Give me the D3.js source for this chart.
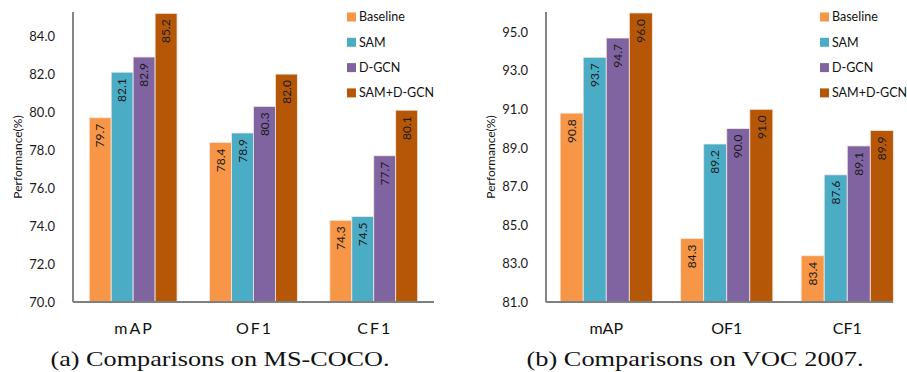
<!DOCTYPE html>
<html>
<head>
<meta charset="utf-8">
<script src="https://cdn.jsdelivr.net/npm/d3@7"></script>
<style>
  body { margin: 0; background: #fff; }
  svg { display: block; }
</style>
</head>
<body>
<div id="chart"></div>
<script>
const categories = ["mAP", "OF1", "CF1"];
const seriesNames = ["Baseline", "SAM", "D-GCN", "SAM+D-GCN"];
const seriesColors = ["#F79646", "#4BACC6", "#8064A2", "#B65708"];

// MS-COCO
const cocoBaseline = [79.7, 78.4, 74.3];
const cocoSAM = [82.1, 78.9, 74.5];
const cocoDGCN = [82.9, 80.3, 77.7];
const cocoBoth = [85.2, 82.0, 80.1];
const cocoTicks = [70, 72, 74, 76, 78, 80, 82, 84];

// VOC 2007
const vocBaseline = [90.8, 84.3, 83.4];
const vocSAM = [93.7, 89.2, 87.6];
const vocDGCN = [94.7, 90.0, 89.1];
const vocBoth = [96.0, 91.0, 89.9];
const vocTicks = [81, 83, 85, 87, 89, 91, 93, 95];

const width = 907, height = 372;
const svg = d3.select("#chart").append("svg")
    .attr("width", width)
    .attr("height", height);

const font = "Lato, 'Open Sans', sans-serif";

const drawPanel = (opts) => {
    const g = svg.append("g");
    const series = opts.series;

    const x = d3.scaleBand()
        .domain(categories)
        .range([opts.left, opts.left + opts.step * categories.length])
        .paddingInner(opts.pad)
        .paddingOuter(opts.pad / 2);

    const xs = d3.scaleBand()
        .domain(seriesNames)
        .range([0, x.bandwidth()]);

    const y = d3.scaleLinear()
        .domain(opts.domain)
        .range([302, 12]);

    // bars
    seriesNames.forEach((name, si) => {
        const vals = series[si];
        const bars = g.append("g");
        bars.selectAll("rect")
            .data(categories)
            .enter().append("rect")
            .attr("x", (c) => x(c) + xs(name))
            .attr("y", (c, i) => y(vals[i]))
            .attr("width", xs.bandwidth())
            .attr("height", (c, i) => y(opts.domain[0]) - y(vals[i]))
            .attr("fill", seriesColors[si])
            .attr("stroke", "#f3e9e3")
            .attr("stroke-width", 0.8);

        bars.selectAll("text")
            .data(categories)
            .enter().append("text")
            .attr("transform", (c, i) => {
                const cx = x(c) + xs(name) + xs.bandwidth() / 2;
                return `translate(${cx},${y(vals[i]) + 6}) rotate(-90)`;
            })
            .attr("text-anchor", "end")
            .attr("dy", "0.35em")
            .attr("fill", "#1a1a1a")
            .style("font-family", font)
            .style("font-size", "12px")
            .text((c, i) => vals[i].toFixed(1));
    });

    // y axis
    const yAxis = g.append("g")
        .attr("transform", `translate(${opts.left},0)`)
        .call(d3.axisLeft(y).tickValues(opts.ticks).tickSize(0).tickPadding(18)
            .tickFormat(d3.format(".1f")));
    yAxis.select(".domain").remove();
    yAxis.selectAll("text")
        .attr("fill", "#1a1a1a")
        .style("font-family", font)
        .style("font-size", "13px");

    g.append("line")
        .attr("x1", opts.left).attr("x2", opts.left)
        .attr("y1", 12).attr("y2", 302)
        .attr("stroke", "#333")
        .attr("stroke-width", 1.2);

    g.append("line")
        .attr("x1", opts.left).attr("x2", opts.axisEnd)
        .attr("y1", 302).attr("y2", 302)
        .attr("stroke", "#7f7f7f")
        .attr("stroke-width", 2);

    // category labels
    g.selectAll(".cat")
        .data(categories)
        .enter().append("text")
        .attr("class", "cat")
        .attr("x", (c) => x(c) + x.bandwidth() / 2 + opts.catSpacing / 2)
        .attr("y", 334)
        .attr("text-anchor", "middle")
        .attr("fill", "#111")
        .style("font-family", font)
        .style("font-size", "16px")
        .style("letter-spacing", opts.catSpacing + "px")
        .text((c) => c);

    // axis title
    g.append("text")
        .attr("transform", `translate(${opts.titleX},157) rotate(-90)`)
        .attr("text-anchor", "middle")
        .attr("dy", "0.35em")
        .attr("fill", "#111")
        .style("font-family", font)
        .style("font-size", "12px")
        .text("Performance(%)");

    // legend
    const legend = g.append("g")
        .attr("transform", `translate(${opts.legendX},0)`);
    seriesNames.forEach((name, i) => {
        const cy = 17 + i * 25.3;
        legend.append("rect")
            .attr("x", 0).attr("y", cy - 4.5)
            .attr("width", 9).attr("height", 9)
            .attr("fill", seriesColors[i]);
        legend.append("text")
            .attr("x", 12).attr("y", cy)
            .attr("dy", "0.35em")
            .attr("fill", "#111")
            .style("font-family", font)
            .style("font-size", "12.5px")
            .text(name);
    });

    // caption
    g.append("text")
        .attr("x", opts.captionX)
        .attr("y", 366)
        .attr("text-anchor", "middle")
        .attr("fill", "#111")
        .attr("textLength", opts.captionW)
        .attr("lengthAdjust", "spacingAndGlyphs")
        .style("font-family", "'Liberation Serif', 'DejaVu Serif', serif")
        .style("font-size", "21px")
        .text(opts.caption);
};

drawPanel({
    series: [cocoBaseline, cocoSAM, cocoDGCN, cocoBoth],
    domain: [70, 85.27],
    ticks: cocoTicks,
    left: 73,
    step: 120.3,
    pad: 0.27,
    axisEnd: 434,
    catSpacing: 2,
    titleX: 18,
    legendX: 347,
    captionX: 220,
    captionW: 339,
    caption: "(a) Comparisons on MS-COCO."
});

drawPanel({
    series: [vocBaseline, vocSAM, vocDGCN, vocBoth],
    domain: [81, 96.05],
    ticks: vocTicks,
    left: 546,
    step: 120.5,
    pad: 0.235,
    axisEnd: 893,
    catSpacing: 0,
    titleX: 491,
    legendX: 820,
    captionX: 695,
    captionW: 337,
    caption: "(b) Comparisons on VOC 2007."
});
</script>
</body>
</html>
